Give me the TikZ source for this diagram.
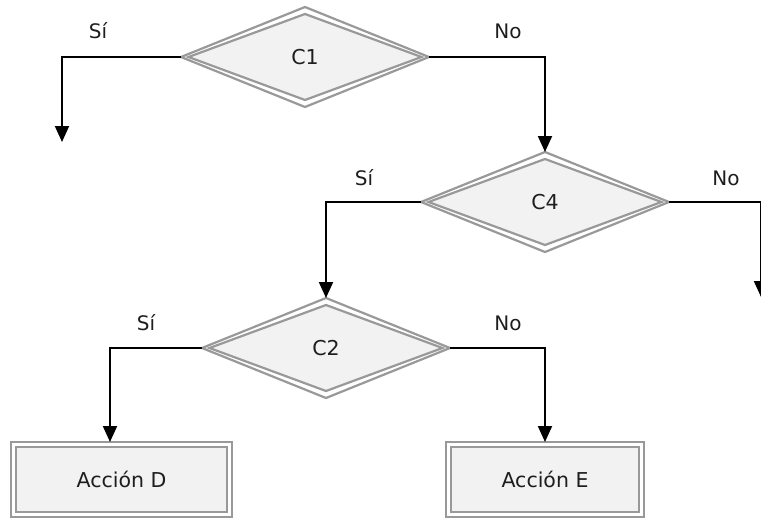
\documentclass[tikz,border=0pt]{standalone}
\usepackage{fontspec}
\setmainfont{DejaVu Sans}
\usetikzlibrary{shapes.geometric,arrows.meta}
\definecolor{edgegray}{HTML}{999999}
\definecolor{fillgray}{HTML}{F2F2F2}
\definecolor{txt}{HTML}{1E1E1E}
\begin{document}
\begin{tikzpicture}[x=1pt,y=-1pt,
  dout/.style={diamond,draw=edgegray,fill=white,line width=2.2pt,inner sep=0pt,outer sep=0pt,minimum width=248pt,minimum height=100pt},
  din/.style={diamond,draw=edgegray,fill=fillgray,line width=2.2pt,inner sep=0pt,outer sep=0pt,minimum width=233pt,minimum height=86pt,text=txt,font=\fontsize{20.5}{24}\selectfont},
  bout/.style={rectangle,draw=edgegray,fill=white,line width=2.2pt,inner sep=0pt,outer sep=0pt,minimum height=75pt},
  bin/.style={rectangle,draw=edgegray,fill=fillgray,line width=2.2pt,inner sep=0pt,outer sep=0pt,minimum height=65pt,text=txt,font=\fontsize{20.5}{24}\selectfont},
  lbl/.style={text=txt,inner sep=0pt,font=\fontsize{20}{24}\selectfont},
  conn/.style={draw=black,line width=2pt,-{Triangle[width=14pt,length=16pt]}}]
\useasboundingbox (0,0) rectangle (761,519);
\clip (0,0) rectangle (761,519);
% decisions
\node[dout] (c1) at (305,57) {};
\node[din] at (c1) {C1};
\node[dout] (c4) at (545,202) {};
\node[din] at (c4) {C4};
\node[dout] (c2) at (326,348) {};
\node[din] at (c2) {C2};
% actions
\node[bout,minimum width=221pt] (d) at (121.5,479.5) {};
\node[bin,minimum width=211pt] at (d) {Acción D};
\node[bout,minimum width=198pt] (e) at (545,479.5) {};
\node[bin,minimum width=188pt] at (e) {Acción E};
% free ends
\coordinate (s1) at (62,142);
\coordinate (n4) at (761,297);
\coordinate (dt) at (110,442);
% connectors
\draw[conn] (c1.west) -| (s1);
\draw[conn] (c1.east) -| (c4.north);
\draw[conn] (c4.west) -| (c2.north);
\draw[conn] (c4.east) -| (n4);
\draw[conn] (c2.west) -| (dt);
\draw[conn] (c2.east) -| (e.north);
% labels
\node[lbl] (l1) at (98,31) {Sí};
\node[lbl] (l2) at (508,31) {No};
\node[lbl] (l3) at (364,178) {Sí};
\node[lbl] (l4) at (726,178) {No};
\node[lbl] (l5) at (146,323) {Sí};
\node[lbl] (l6) at (508,323) {No};
\end{tikzpicture}
\end{document}
